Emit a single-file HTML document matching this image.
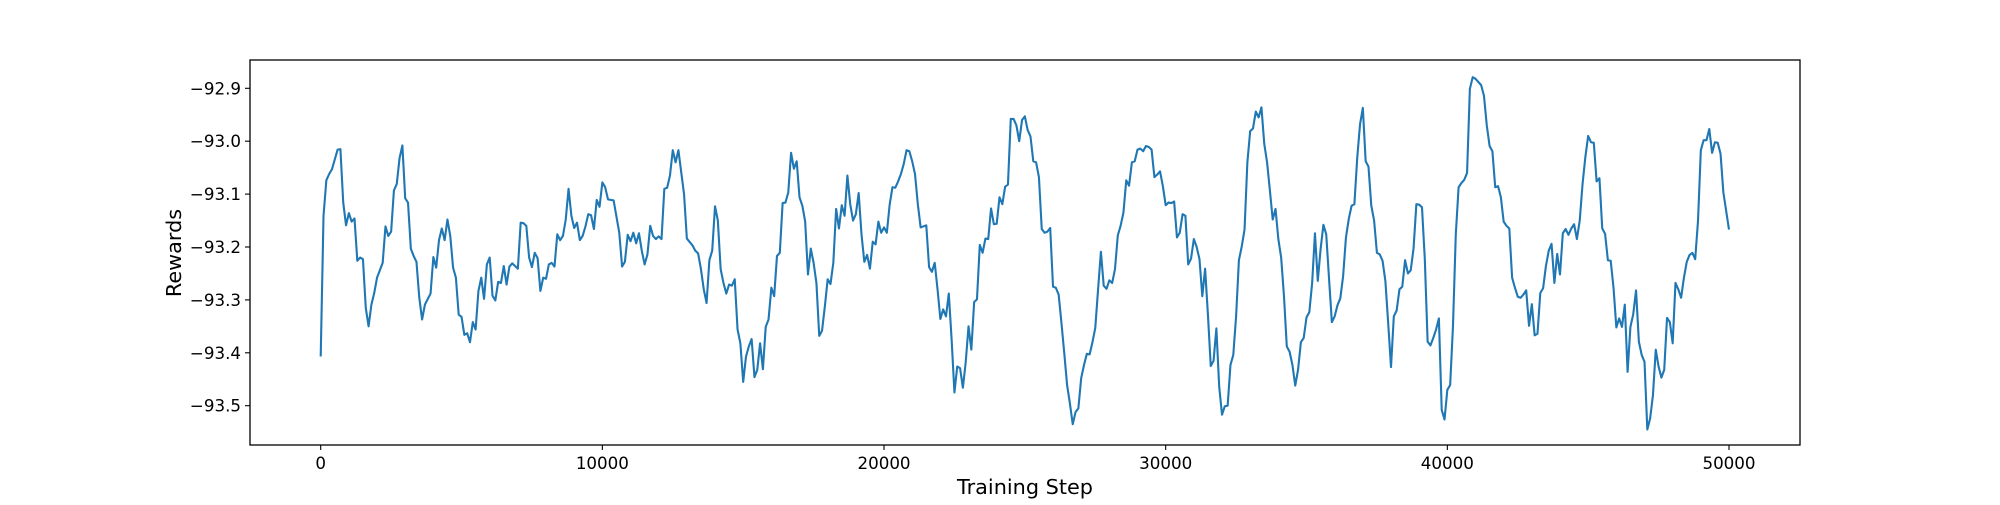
<!DOCTYPE html>
<html><head><meta charset="utf-8"><style>
body{margin:0;background:#fff;}
svg text{font-family:"DejaVu Sans","Liberation Sans",sans-serif;fill:#000;}
</style></head><body>
<svg id="chart" width="2000" height="500" viewBox="0 0 2000 500" xmlns="http://www.w3.org/2000/svg">
<rect x="250" y="60" width="1550" height="385" fill="none" stroke="#000" stroke-width="1.3"/>
<g id="xt"></g>
<g id="yt"></g>
<path id="line" fill="none" stroke="#1f77b4" stroke-width="2.1" stroke-linejoin="round"/>
<text x="1025" y="494" font-size="20.8" text-anchor="middle">Training Step</text>
<text x="0" y="0" font-size="20.8" text-anchor="middle" transform="translate(181,253) rotate(-90)">Rewards</text>
</svg>
<script>
const steps=[0,100,200,300,400,600,700,800,900,1000,1100,1200,1300,1400,1500,1600,1700,1800,1900,2000,2200,2300,2400,2500,2600,2700,2800,2900,3000,3100,3200,3300,3400,3500,3600,3700,3900,4000,4100,4200,4300,4400,4500,4600,4700,4800,4900,5000,5100,5200,5300,5400,5500,5600,5700,5800,5900,6000,6100,6200,6300,6400,6500,6600,6700,6800,6900,7000,7100,7200,7300,7400,7500,7600,7700,7800,7900,8000,8100,8200,8300,8400,8500,8600,8700,8800,8900,9000,9100,9200,9300,9400,9500,9600,9700,9800,9900,10000,10100,10200,10400,10600,10700,10800,10900,11000,11100,11200,11300,11400,11500,11600,11700,11800,11900,12000,12100,12200,12300,12400,12500,12600,12700,12900,13000,13200,13300,13400,13500,13600,13700,13800,13900,14000,14100,14200,14300,14400,14500,14600,14700,14800,14900,15000,15100,15200,15300,15400,15500,15600,15700,15800,15900,16000,16100,16200,16300,16400,16500,16600,16700,16800,16900,17000,17100,17200,17300,17400,17500,17600,17700,17800,17900,18000,18100,18200,18300,18400,18500,18600,18700,18800,18900,19000,19100,19200,19300,19400,19500,19600,19700,19800,19900,20000,20100,20200,20300,20400,20500,20600,20700,20800,20900,21000,21100,21200,21300,21500,21600,21700,21800,21900,22000,22100,22200,22300,22400,22500,22600,22700,22800,22900,23000,23100,23200,23300,23400,23500,23600,23700,23800,23900,24000,24100,24200,24300,24400,24500,24600,24700,24800,24900,25000,25100,25200,25300,25400,25500,25600,25700,25800,25900,26000,26100,26200,26300,26400,26500,26600,26700,26800,26900,27000,27100,27200,27300,27400,27500,27600,27700,27800,27900,28000,28100,28200,28300,28400,28500,28600,28700,28800,28900,29000,29100,29200,29300,29400,29500,29600,29700,29800,29900,30000,30100,30200,30300,30400,30500,30600,30700,30800,30900,31000,31100,31200,31300,31400,31500,31600,31700,31800,31900,32000,32100,32200,32300,32400,32500,32600,32700,32800,32900,33000,33100,33200,33300,33400,33500,33600,33700,33800,33900,34000,34100,34200,34300,34400,34500,34600,34700,34800,34900,35000,35100,35200,35300,35400,35500,35600,35700,35800,35900,36000,36100,36200,36300,36400,36500,36600,36700,36800,36900,37000,37100,37200,37300,37400,37500,37600,37700,37800,37900,38000,38100,38200,38300,38400,38500,38600,38700,38800,38900,39000,39100,39200,39300,39400,39500,39600,39700,39800,39900,40000,40100,40200,40300,40400,40500,40600,40700,40800,40900,41000,41200,41300,41400,41500,41600,41700,41800,41900,42000,42100,42200,42300,42400,42500,42600,42700,42800,42900,43000,43100,43200,43300,43400,43500,43600,43700,43800,43900,44000,44100,44200,44300,44400,44500,44600,44700,44800,44900,45000,45100,45200,45300,45400,45500,45600,45700,45800,45900,46000,46100,46200,46300,46400,46500,46600,46700,46800,46900,47000,47100,47200,47300,47400,47500,47600,47700,47800,47900,48000,48100,48200,48300,48400,48500,48600,48700,48800,48900,49000,49100,49200,49300,49400,49500,49600,49700,49800,50000];
const rewards=[-93.407,-93.141,-93.074,-93.062,-93.053,-93.016,-93.015,-93.116,-93.159,-93.136,-93.152,-93.146,-93.226,-93.220,-93.223,-93.315,-93.350,-93.309,-93.287,-93.258,-93.230,-93.161,-93.179,-93.171,-93.093,-93.081,-93.032,-93.008,-93.108,-93.116,-93.203,-93.217,-93.228,-93.296,-93.337,-93.309,-93.288,-93.219,-93.239,-93.187,-93.165,-93.187,-93.148,-93.179,-93.239,-93.258,-93.328,-93.332,-93.366,-93.363,-93.380,-93.342,-93.356,-93.283,-93.258,-93.298,-93.233,-93.220,-93.292,-93.301,-93.266,-93.268,-93.236,-93.271,-93.237,-93.231,-93.236,-93.241,-93.154,-93.155,-93.160,-93.220,-93.238,-93.211,-93.221,-93.283,-93.258,-93.260,-93.233,-93.230,-93.237,-93.176,-93.187,-93.179,-93.148,-93.090,-93.141,-93.164,-93.154,-93.187,-93.179,-93.161,-93.138,-93.140,-93.166,-93.111,-93.124,-93.078,-93.087,-93.110,-93.112,-93.173,-93.237,-93.228,-93.177,-93.189,-93.173,-93.193,-93.174,-93.207,-93.233,-93.214,-93.160,-93.179,-93.185,-93.180,-93.185,-93.090,-93.088,-93.065,-93.017,-93.040,-93.017,-93.100,-93.184,-93.197,-93.207,-93.212,-93.242,-93.280,-93.306,-93.225,-93.207,-93.123,-93.150,-93.242,-93.268,-93.288,-93.271,-93.273,-93.261,-93.356,-93.382,-93.455,-93.407,-93.388,-93.374,-93.446,-93.432,-93.382,-93.431,-93.351,-93.337,-93.277,-93.293,-93.217,-93.211,-93.117,-93.116,-93.097,-93.022,-93.052,-93.038,-93.106,-93.122,-93.152,-93.252,-93.203,-93.230,-93.268,-93.368,-93.358,-93.312,-93.261,-93.270,-93.230,-93.128,-93.165,-93.121,-93.141,-93.065,-93.119,-93.150,-93.138,-93.098,-93.176,-93.228,-93.215,-93.241,-93.190,-93.195,-93.152,-93.173,-93.163,-93.173,-93.120,-93.087,-93.088,-93.076,-93.062,-93.043,-93.017,-93.019,-93.038,-93.062,-93.119,-93.163,-93.159,-93.238,-93.247,-93.230,-93.280,-93.336,-93.318,-93.331,-93.288,-93.375,-93.475,-93.426,-93.429,-93.466,-93.418,-93.350,-93.394,-93.304,-93.299,-93.196,-93.211,-93.184,-93.185,-93.127,-93.157,-93.156,-93.106,-93.119,-93.086,-93.082,-92.958,-92.958,-92.970,-93.000,-92.960,-92.953,-92.979,-92.991,-93.038,-93.040,-93.068,-93.166,-93.173,-93.171,-93.164,-93.275,-93.277,-93.290,-93.344,-93.401,-93.461,-93.496,-93.535,-93.512,-93.505,-93.448,-93.423,-93.402,-93.403,-93.380,-93.353,-93.280,-93.209,-93.273,-93.279,-93.263,-93.268,-93.242,-93.178,-93.160,-93.135,-93.074,-93.084,-93.040,-93.038,-93.016,-93.014,-93.019,-93.009,-93.011,-93.016,-93.068,-93.063,-93.057,-93.085,-93.121,-93.116,-93.117,-93.114,-93.182,-93.173,-93.138,-93.141,-93.233,-93.222,-93.185,-93.200,-93.223,-93.293,-93.241,-93.328,-93.425,-93.415,-93.354,-93.464,-93.517,-93.501,-93.500,-93.423,-93.404,-93.331,-93.225,-93.199,-93.167,-93.040,-92.981,-92.976,-92.944,-92.955,-92.936,-93.005,-93.040,-93.093,-93.148,-93.128,-93.185,-93.220,-93.293,-93.388,-93.398,-93.423,-93.462,-93.432,-93.380,-93.372,-93.333,-93.323,-93.268,-93.174,-93.264,-93.204,-93.158,-93.176,-93.260,-93.342,-93.331,-93.310,-93.297,-93.255,-93.182,-93.147,-93.122,-93.119,-93.032,-92.968,-92.937,-93.038,-93.048,-93.122,-93.150,-93.211,-93.214,-93.226,-93.264,-93.344,-93.427,-93.331,-93.320,-93.280,-93.275,-93.225,-93.250,-93.244,-93.203,-93.119,-93.120,-93.125,-93.223,-93.379,-93.386,-93.372,-93.356,-93.335,-93.508,-93.526,-93.470,-93.461,-93.350,-93.176,-93.087,-93.079,-93.073,-93.060,-92.901,-92.879,-92.882,-92.894,-92.914,-92.970,-93.009,-93.019,-93.087,-93.085,-93.106,-93.152,-93.160,-93.165,-93.258,-93.277,-93.294,-93.296,-93.290,-93.282,-93.349,-93.308,-93.367,-93.364,-93.287,-93.278,-93.236,-93.207,-93.194,-93.268,-93.213,-93.252,-93.174,-93.166,-93.177,-93.165,-93.157,-93.185,-93.150,-93.081,-93.030,-92.990,-93.002,-93.003,-93.076,-93.070,-93.165,-93.175,-93.225,-93.226,-93.277,-93.352,-93.335,-93.351,-93.309,-93.436,-93.351,-93.327,-93.282,-93.379,-93.404,-93.417,-93.545,-93.524,-93.480,-93.394,-93.426,-93.447,-93.432,-93.334,-93.342,-93.382,-93.268,-93.280,-93.296,-93.258,-93.228,-93.215,-93.211,-93.223,-93.150,-93.017,-92.998,-92.998,-92.977,-93.022,-93.002,-93.003,-93.024,-93.097,-93.167];
const xTicks=[0,10000,20000,30000,40000,50000];
const yTicks=[-92.9,-93.0,-93.1,-93.2,-93.3,-93.4,-93.5];
const yTickLabels=["\u221292.9","\u221293.0","\u221293.1","\u221293.2","\u221293.3","\u221293.4","\u221293.5"];

const NS="http://www.w3.org/2000/svg";
function xs(s){return 320.7+s*0.028166;}
function ys(v){return 88.3+(-92.9-v)*529;}
const xt=document.getElementById('xt'),yt=document.getElementById('yt');
xTicks.forEach(t=>{
  const l=document.createElementNS(NS,'line');
  l.setAttribute('x1',xs(t));l.setAttribute('x2',xs(t));l.setAttribute('y1',445);l.setAttribute('y2',450);
  l.setAttribute('stroke','#000');l.setAttribute('stroke-width','1.1');
  
  
  xt.appendChild(l);
  const tx=document.createElementNS(NS,'text');
  tx.setAttribute('x',xs(t));tx.setAttribute('y',469);tx.setAttribute('font-size','16.7');tx.setAttribute('text-anchor','middle');
  tx.textContent=String(t);
  
  
  xt.appendChild(tx);
});
yTicks.forEach((t,i)=>{
  const l=document.createElementNS(NS,'line');
  l.setAttribute('x1',245);l.setAttribute('x2',250);l.setAttribute('y1',ys(t));l.setAttribute('y2',ys(t));
  l.setAttribute('stroke','#000');l.setAttribute('stroke-width','1.1');
  
  
  yt.appendChild(l);
  const tx=document.createElementNS(NS,'text');
  tx.setAttribute('x',241);tx.setAttribute('y',ys(t)+6);tx.setAttribute('font-size','16.7');tx.setAttribute('text-anchor','end');
  tx.textContent=yTickLabels[i];
  
  
  yt.appendChild(tx);
});
let d='';
steps.forEach((s,i)=>{d+=(i?'L':'M')+xs(s).toFixed(2)+','+ys(rewards[i]).toFixed(2);});
document.getElementById('line').setAttribute('d',d);
</script>
</body></html>
